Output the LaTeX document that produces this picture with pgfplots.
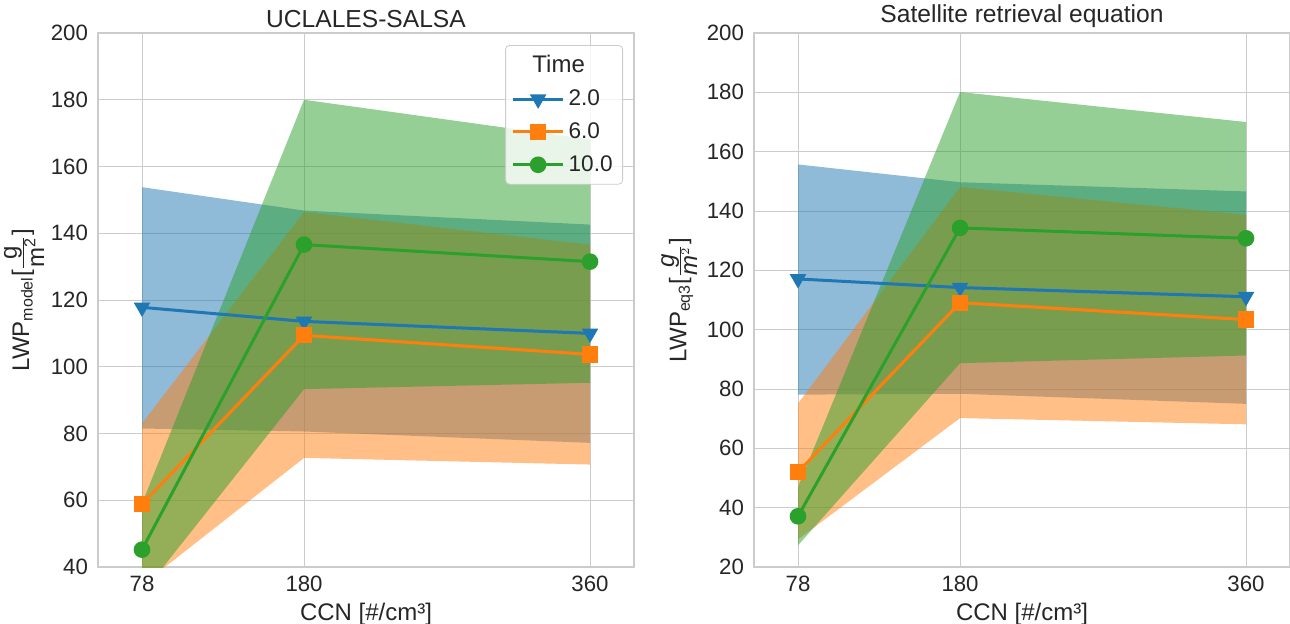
\documentclass[border=0pt]{standalone}
\usepackage{fontspec}
\setmainfont{Liberation Sans}
\usepackage{pgfplots}
\pgfplotsset{compat=1.18}
\definecolor{c1}{HTML}{1F77B4}
\definecolor{c2}{HTML}{FF7F0E}
\definecolor{c3}{HTML}{2CA02C}
\definecolor{gridc}{HTML}{CCCCCC}
\definecolor{txt}{HTML}{262626}

\pgfplotsset{
  panel/.style={
    scale only axis, width=268pt, height=267pt,
    xmin=50.3, xmax=387.7, xtick={78,180,360},
    grid=major, major grid style={gridc, line width=0.5pt},
    axis line style={gridc, line width=0.6pt},
    major tick length=0pt,
    tick label style={font=\fontsize{11.1}{13}\selectfont, text=txt},
    xticklabel style={yshift=-1pt},
    yticklabel style={xshift=-1.5pt},
    label style={font=\fontsize{12}{14}\selectfont, text=txt},
    xlabel style={yshift=1pt},
    title style={font=\fontsize{12.3}{14}\selectfont, text=txt, yshift=-7pt},
    /pgf/number format/assume math mode=true,
  },
  band/.style={draw=none, fill=#1, fill opacity=0.5, forget plot},
  mean/.style={color=#1, line width=1.5pt, forget plot},
}

\begin{document}
\begin{tikzpicture}
\path[use as bounding box] (0,0) rectangle (645pt,-311.5pt);

% left panel: model
\begin{axis}[panel, at={(49pt,-283.5pt)}, anchor=south west,
  ymin=40, ymax=200, ytick={40,60,...,200},
  title={UCLALES-SALSA},
  xlabel={CCN [\#/cm³]},
  ylabel={LWP\textsubscript{model}[$\frac{\textrm{g}}{\textrm{m\textsuperscript{2}}}$]},
  ylabel style={yshift=-3.5pt},
  legend style={at={(0.9795,0.9775)}, anchor=north east, draw=gridc,
    rounded corners=2pt, fill=white, fill opacity=0.8, text opacity=1,
    font=\fontsize{11.3}{13}\selectfont, text=txt, row sep=3pt,
    inner xsep=3pt, inner ysep=3pt},
  legend cell align=left,
  legend image code/.code={\draw[mark repeat=2,mark phase=2,fill opacity=1,draw opacity=1,#1] plot coordinates {(0pt,0pt)(12.5pt,0pt)(25pt,0pt)};},
]
\addplot[band=c1] coordinates {(78,81.5)(180,80.6)(360,77.2)(360,142.6)(180,146.8)(78,153.8)} -- cycle;
\addplot[band=c2] coordinates {(78,34.6)(180,72.7)(360,70.7)(360,136.6)(180,146.4)(78,83.0)} -- cycle;
\addplot[band=c3] coordinates {(78,32.0)(180,93.3)(360,95.2)(360,168.1)(180,180.0)(78,59.0)} -- cycle;
\addplot[mean=c1, mark=triangle*, mark options={rotate=180, scale=1.65}] coordinates {(78,117.8)(180,113.6)(360,110.0)};
\addplot[mean=c2, mark=square*, mark size=3.3pt] coordinates {(78,58.8)(180,109.4)(360,103.7)};
\addplot[mean=c3, mark=*, mark size=3.4pt] coordinates {(78,45.2)(180,136.6)(360,131.5)};
\addlegendimage{empty legend}
\addlegendentry{\makebox[0pt]{\hspace{-10pt}\fontsize{12}{13}\selectfont Time}}
\addlegendimage{c1, line width=1.5pt, mark=triangle*, mark options={rotate=180, scale=1.65}}
\addlegendentry{2.0}
\addlegendimage{c2, line width=1.5pt, mark=square*, mark size=3.3pt}
\addlegendentry{6.0}
\addlegendimage{c3, line width=1.5pt, mark=*, mark size=3.4pt}
\addlegendentry{10.0}
\end{axis}

% right panel: satellite retrieval
\begin{axis}[panel, at={(377pt,-283.5pt)}, anchor=south west,
  ymin=20, ymax=200, ytick={20,40,...,200},
  title={Satellite retrieval equation},
  xlabel={CCN [\#/cm³]},
  ylabel={LWP\textsubscript{eq3}[$\frac{\textit{g}}{\textit{m}^{2}}$]},
  ylabel style={yshift=-2pt},
]
\addplot[band=c1] coordinates {(78,78.1)(180,78.4)(360,75.0)(360,146.6)(180,149.7)(78,155.7)} -- cycle;
\addplot[band=c2] coordinates {(78,29.3)(180,70.2)(360,68.1)(360,138.7)(180,148.1)(78,75.1)} -- cycle;
\addplot[band=c3] coordinates {(78,27.3)(180,88.7)(360,91.3)(360,170.0)(180,180.1)(78,47.0)} -- cycle;
\addplot[mean=c1, mark=triangle*, mark options={rotate=180, scale=1.65}] coordinates {(78,117.1)(180,114.2)(360,111.1)};
\addplot[mean=c2, mark=square*, mark size=3.3pt] coordinates {(78,52.0)(180,109.1)(360,103.4)};
\addplot[mean=c3, mark=*, mark size=3.4pt] coordinates {(78,37.1)(180,134.3)(360,130.8)};
\end{axis}
\end{tikzpicture}
\end{document}
